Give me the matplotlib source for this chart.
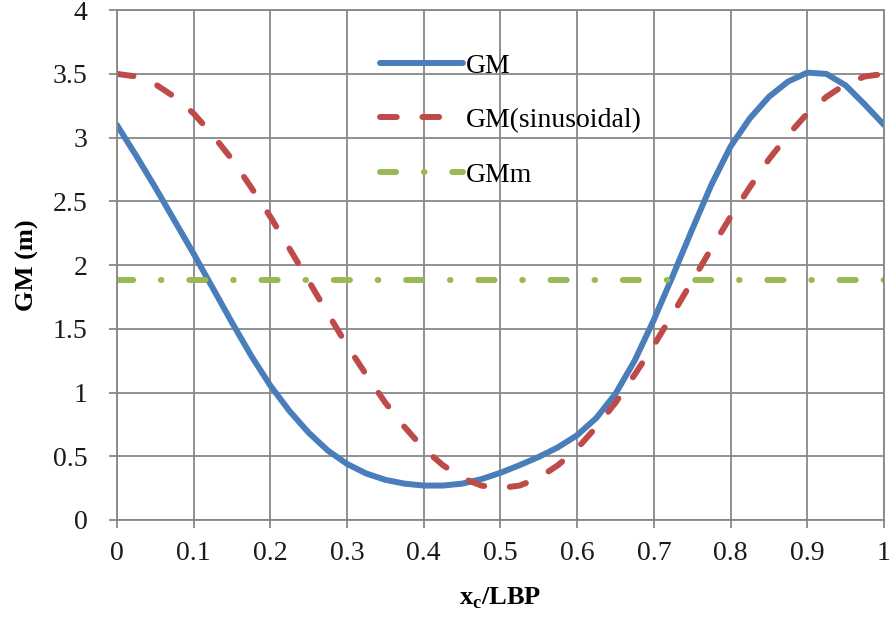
import matplotlib
matplotlib.use("Agg")
import matplotlib.pyplot as plt

plt.rcParams['font.family'] = ['Liberation Serif', 'DejaVu Serif']

# values (step 0.025)
x = [0, 0.025, 0.05, 0.075, 0.1, 0.125, 0.15, 0.175, 0.2, 0.225, 0.25,
     0.275, 0.3, 0.325, 0.35, 0.375, 0.4, 0.425, 0.45, 0.475, 0.5,
     0.525, 0.55, 0.575, 0.6, 0.625, 0.65, 0.675, 0.7, 0.725, 0.75,
     0.775, 0.8, 0.825, 0.85, 0.875, 0.9, 0.925, 0.95, 0.975, 1.0]
gm = [3.10, 2.86, 2.61, 2.35, 2.09, 1.82, 1.55, 1.29, 1.055, 0.855, 0.685,
      0.545, 0.44, 0.365, 0.315, 0.285, 0.27, 0.27, 0.285, 0.32, 0.37,
      0.43, 0.495, 0.57, 0.665, 0.80, 0.99, 1.25, 1.57, 1.92, 2.28,
      2.63, 2.93, 3.15, 3.32, 3.44, 3.51, 3.50, 3.41, 3.26, 3.10]
gm_sin = [3.50, 3.48, 3.42, 3.32, 3.19, 3.02, 2.83, 2.61, 2.38, 2.13, 1.875,
          1.62, 1.37, 1.14, 0.92, 0.73, 0.56, 0.43, 0.33, 0.27, 0.25,
          0.27, 0.33, 0.43, 0.56, 0.73, 0.92, 1.14, 1.37, 1.62, 1.875,
          2.13, 2.38, 2.61, 2.83, 3.02, 3.19, 3.32, 3.42, 3.48, 3.50]
gmm_x = [0, 1.0]
gmm = [1.88, 1.88]

fig = plt.figure(figsize=(8.92, 6.24), dpi=100)
ax = fig.add_axes([0.131, 0.1667, 0.86, 0.817])

lw = 4.3
ax.plot(x, gm, color='#4A7EBB', lw=lw, solid_capstyle='round', label='GM')
ax.plot(x, gm_sin, color='#BE4B48', lw=lw, dashes=(2.8, 4.3), dash_capstyle='round',
        label='GM(sinusoidal)')
ax.plot(gmm_x, gmm, color='#98B954', lw=lw, dashes=(2.7, 4.65, 0.1, 4.65),
        dash_capstyle='round', label='GMm')

ax.set_xlim(0, 1)
ax.set_ylim(0, 4)
ax.set_xticks([i / 10 for i in range(11)])
ax.set_xticklabels(['0', '0.1', '0.2', '0.3', '0.4', '0.5', '0.6', '0.7', '0.8', '0.9', '1'])
ax.set_yticks([0, 0.5, 1, 1.5, 2, 2.5, 3, 3.5, 4])
ax.set_yticklabels(['0', '0.5', '1', '1.5', '2', '2.5', '3', '3.5', '4'])
ax.grid(True, color='#888888', lw=1.3)
ax.set_axisbelow(True)
for s in ax.spines.values():
    s.set_color('#888888')
    s.set_linewidth(1.3)
ax.tick_params(axis='both', colors='#888888', labelcolor='#1a1a1a', labelsize=20,
               length=6, width=1.3)
ax.tick_params(axis='x', pad=9)
ax.tick_params(axis='y', pad=15)

ax.set_xlabel('x$_\\mathregular{c}$/LBP', fontsize=19, fontweight='bold', labelpad=14)
ax.set_ylabel('GM (m)', fontsize=19, fontweight='bold', labelpad=10)

ax.legend(loc='upper left', bbox_to_anchor=(0.398, 0.955), bbox_transform=fig.transFigure,
          frameon=False, fontsize=20, handlelength=3.0, handletextpad=0.08,
          labelspacing=1.05)

fig.savefig('out.png', dpi=100)
